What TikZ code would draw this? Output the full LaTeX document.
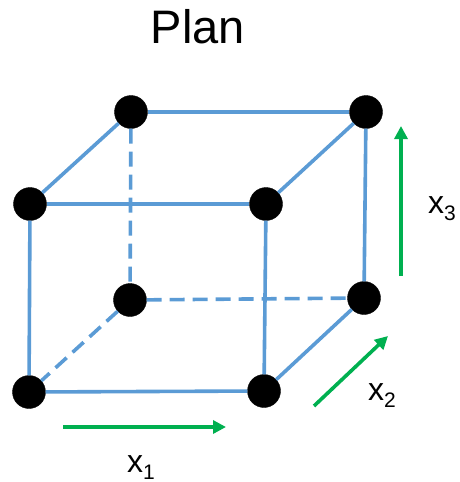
\documentclass[tikz,border=0pt]{standalone}
\usepackage{fontspec}
\setmainfont{Liberation Sans}
\usetikzlibrary{arrows.meta}
\definecolor{edgeblue}{RGB}{91,155,213}
\definecolor{axisgreen}{RGB}{0,176,80}
\tikzset{
  vertex/.style={circle,fill=black,draw=black,minimum size=33pt,inner sep=0pt},
  solidedge/.style={draw=edgeblue,line width=3.6pt},
  hiddenedge/.style={draw=edgeblue,line width=3.6pt,dash pattern=on 15pt off 8pt},
  axis/.style={draw=axisgreen,line width=3.6pt,-{Triangle[length=13pt,width=13pt]}},
  axlabel/.style={font=\fontsize{32}{32}\selectfont,inner sep=0pt}
}
\newcommand{\axsub}[1]{x\raisebox{-7pt}{\fontsize{21}{21}\selectfont #1}}
\begin{document}
\begin{tikzpicture}[x=1pt,y=-1pt]
\useasboundingbox (0,0) rectangle (460,482);
\node[font=\fontsize{47}{47}\selectfont] (title) at (198,27) {Plan};
% vertices
\node[vertex] (btl) at (131,112) {};
\node[vertex] (btr) at (366,112) {};
\node[vertex] (ftl) at (30,204) {};
\node[vertex] (ftr) at (266,204) {};
\node[vertex] (bbl) at (130,300) {};
\node[vertex] (bbr) at (364,298) {};
\node[vertex] (fbl) at (29,392) {};
\node[vertex] (fbr) at (264,391) {};
% solid edges
\path[solidedge] (ftl) -- (ftr);
\path[solidedge] (ftr) -- (fbr);
\path[solidedge] (fbr) -- (fbl);
\path[solidedge] (fbl) -- (ftl);
\path[solidedge] (btl) -- (btr);
\path[solidedge] (btr) -- (bbr);
\path[solidedge] (btl) -- (ftl);
\path[solidedge] (btr) -- (ftr);
\path[solidedge] (bbr) -- (fbr);
% hidden edges
\path[hiddenedge] (btl) -- (bbl);
\path[hiddenedge] (bbl) -- (bbr);
\path[hiddenedge] (bbl) -- (fbl);
% axes
\coordinate (a1s) at (63,427);
\coordinate (a1e) at (226,427);
\coordinate (a2s) at (314,406);
\coordinate (a2e) at (388,336);
\coordinate (a3s) at (401,276);
\coordinate (a3e) at (401,126);
\path[axis] (a1s) -- (a1e);
\path[axis] (a2s) -- (a2e);
\path[axis] (a3s) -- (a3e);
\node[axlabel,anchor=base west] (l1) at (127,472) {\axsub{1}};
\node[axlabel,anchor=base west] (l2) at (368,400) {\axsub{2}};
\node[axlabel,anchor=base west] (l3) at (428,213) {\axsub{3}};
\end{tikzpicture}
\end{document}
